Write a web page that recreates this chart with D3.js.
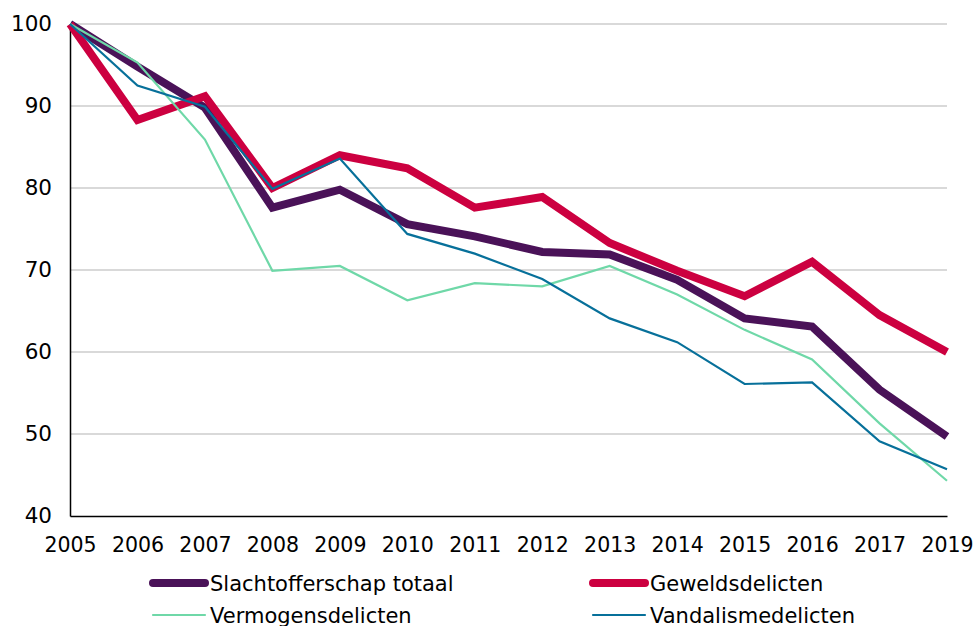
<!DOCTYPE html>
<html>
  <head>
    <meta charset="utf-8">
    <script src="https://d3js.org/d3.v7.min.js"></script>
    <style>
      body { margin: 0; background: #fff; }
      svg { display: block; font-family: 'DejaVu Sans', Verdana, sans-serif; }
    </style>
  </head>
  <body>
    <svg></svg>
    <script>
      // categories on the x axis (2018 is not in the source)
      var years = ['2005', '2006', '2007', '2008', '2009', '2010', '2011', '2012', '2013', '2014', '2015', '2016', '2017', '2019'];
      var yTicks = [40, 50, 60, 70, 80, 90, 100];

      var totaal = [100, 94.8, 89.8, 77.6, 79.8, 75.6, 74.1, 72.2, 71.9, 68.8, 64.1, 63.1, 55.4, 49.7];
      var geweld = [100, 88.3, 91.2, 80.0, 84.0, 82.4, 77.6, 78.9, 73.3, 69.9, 66.8, 71.0, 64.5, 60.0];
      var vermogen = [100, 95.3, 85.9, 69.9, 70.5, 66.3, 68.4, 68.0, 70.5, 67.0, 62.7, 59.1, 51.3, 44.3];
      var vandalisme = [100, 92.5, 89.9, 79.9, 83.6, 74.4, 72.0, 68.9, 64.1, 61.2, 56.1, 56.3, 49.1, 45.7];

      var series = [
        { name: 'Slachtofferschap totaal', values: totaal, color: '#4a1258', width: 8 },
        { name: 'Geweldsdelicten', values: geweld, color: '#cc0040', width: 8 },
        { name: 'Vermogensdelicten', values: vermogen, color: '#6fd8a8', width: 2.2 },
        { name: 'Vandalismedelicten', values: vandalisme, color: '#07709a', width: 2.2 }
      ];

      var width = 976, height = 626;
      var plotLeft = 70, plotRight = 947, plotTop = 24, plotBottom = 516;

      var svg = d3.select('svg').attr('width', width).attr('height', height);

      var x = d3.scalePoint().domain(years).range([plotLeft, plotRight]);
      var y = d3.scaleLinear().domain([40, 100]).range([plotBottom, plotTop]);

      // gridlines
      svg.append('g')
        .selectAll('line')
        .data(yTicks.slice(1))
        .enter().append('line')
        .attr('x1', plotLeft).attr('x2', plotRight)
        .attr('y1', function (d) { return y(d); })
        .attr('y2', function (d) { return y(d); })
        .attr('stroke', '#d9d9d9')
        .attr('stroke-width', 2);

      // y axis
      var yAxis = svg.append('g')
        .attr('transform', 'translate(' + plotLeft + ',0)')
        .call(d3.axisLeft(y).tickValues(yTicks).tickSize(0).tickPadding(18));
      yAxis.select('.domain').attr('stroke', '#000').attr('stroke-width', 1.5);
      yAxis.selectAll('text').attr('font-size', 21.5).attr('fill', '#000')
        .style('font-family', "'DejaVu Sans', Verdana, sans-serif");

      // x axis
      var xAxis = svg.append('g')
        .attr('transform', 'translate(0,' + plotBottom + ')')
        .call(d3.axisBottom(x).tickSize(0).tickPadding(21));
      xAxis.select('.domain').attr('stroke', '#000').attr('stroke-width', 1.5);
      xAxis.selectAll('text').attr('font-size', 20.5).attr('fill', '#000')
        .style('font-family', "'DejaVu Sans', Verdana, sans-serif");

      var line = d3.line()
        .x(function (d, i) { return x(years[i]); })
        .y(function (d) { return y(d); });

      svg.append('g')
        .selectAll('path')
        .data(series)
        .enter().append('path')
        .attr('d', function (d) { return line(d.values); })
        .attr('fill', 'none')
        .attr('stroke', function (d) { return d.color; })
        .attr('stroke-width', function (d) { return d.width; })
        .attr('stroke-linejoin', 'miter');

      // legend, two columns
      var legend = svg.append('g')
        .selectAll('g')
        .data(series)
        .enter().append('g')
        .attr('transform', function (d, i) {
          return 'translate(' + (i % 2 ? 593 : 153) + ',' + (i < 2 ? 583 : 615) + ')';
        });

      legend.append('line')
        .attr('x1', 0).attr('x2', 52)
        .attr('stroke', function (d) { return d.color; })
        .attr('stroke-width', function (d) { return d.width; })
        .attr('stroke-linecap', 'round');

      legend.append('text')
        .attr('x', 57)
        .attr('dy', '0.36em')
        .attr('font-size', 21)
        .text(function (d) { return d.name; });
    </script>
  </body>
</html>
